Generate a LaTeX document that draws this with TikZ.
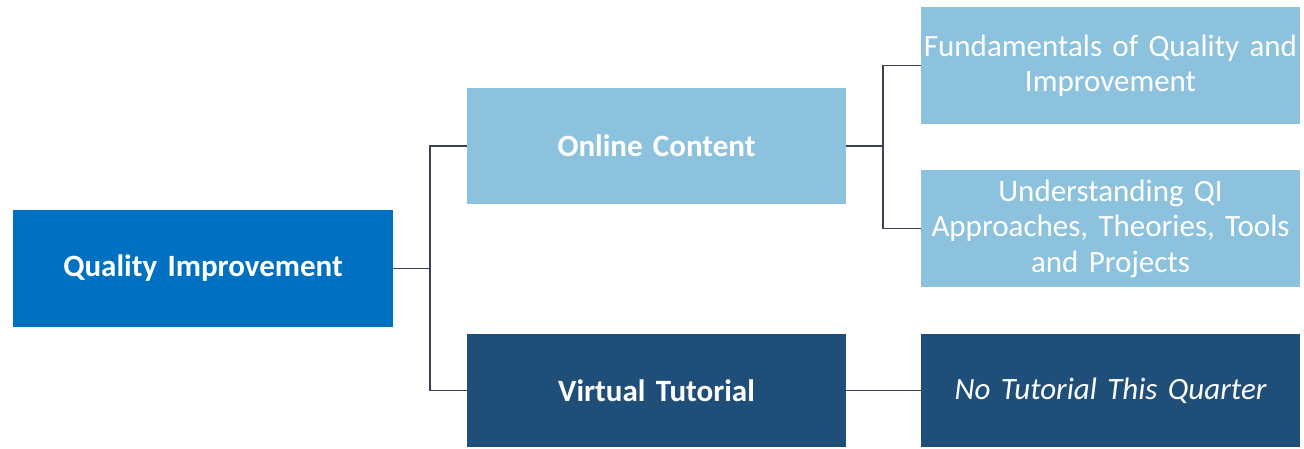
\documentclass[tikz,border=0pt]{standalone}
\usepackage{fontspec}
\setmainfont{Carlito}
\definecolor{qiblue}{HTML}{0070C0}
\definecolor{lightbox}{HTML}{8DC2DF}
\definecolor{navybox}{HTML}{1F4E79}
\definecolor{linkgray}{HTML}{3A4252}
\begin{document}
\begin{tikzpicture}[x=1pt,y=-1pt,
  box/.style={rectangle, inner sep=0pt, minimum width=379pt, text=white, align=center, text width=378pt},
  tall/.style={box, minimum height=117pt},
  short/.style={box, minimum height=113pt},
  headfont/.style={font=\fontsize{31}{35}\selectfont\bfseries},
  bodyfont/.style={font=\fontsize{31}{35.5}\selectfont},
  notefont/.style={font=\fontsize{31}{35.5}\selectfont\itshape},
  link/.style={draw=linkgray, line width=1.8pt}]
\useasboundingbox (0,0) rectangle (1304,449);
\fill[white] (0,0) rectangle (1304,449);
% root and first level
\node[tall, fill=qiblue, minimum width=380pt, headfont] (qi) at (203,268.5) {Quality Improvement};
\node[box, minimum height=116pt, fill=lightbox, headfont] (oc) at (656.5,146) {Online Content};
\node[short, fill=navybox, headfont] (vt) at (656.5,390.5) {Virtual Tutorial};
% second level
\node[tall, fill=lightbox, bodyfont] (fu) at (1110.5,65.5) {Fundamentals of Quality and\\Improvement};
\node[tall, fill=lightbox, bodyfont] (un) at (1110.5,228.5) {Understanding QI\\Approaches, Theories, Tools\\and Projects};
\node[short, fill=navybox, notefont] (nt) at (1110.5,390.5) {No Tutorial This Quarter};
% elbow joints
\coordinate (j1) at (430,268.5);
\coordinate (j2) at (883,146);
% connectors
\draw[link] (qi.east) -- (j1);
\draw[link] (oc.west) -| (j1) |- (vt.west);
\draw[link] (oc.east) -- (j2);
\draw[link] (fu.west) -| (j2) |- (un.west);
\draw[link] (vt.east) -- (nt.west);
\end{tikzpicture}
\end{document}
